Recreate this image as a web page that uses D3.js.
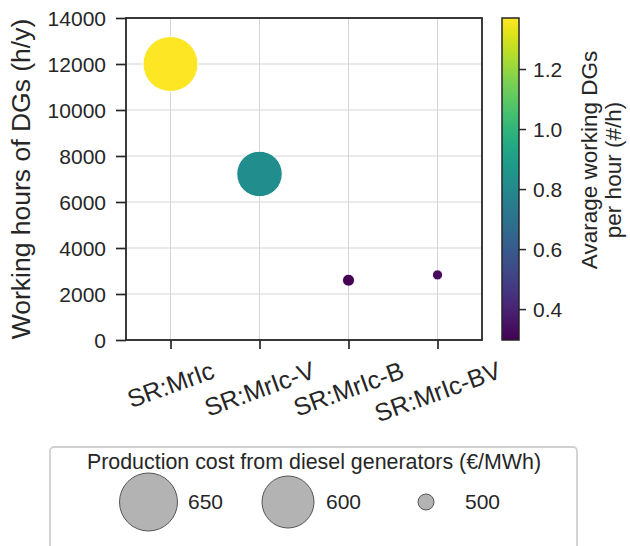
<!DOCTYPE html>
<html><head><meta charset="utf-8">
<script src="https://cdn.jsdelivr.net/npm/d3@7"></script>
<style>
body{margin:0;background:#fff}
text{font-family:"Liberation Sans",Arial,sans-serif;fill:#262626}
</style>
</head><body>
<svg id="c" width="630" height="546"></svg>
<script>
// ---- data ----
const categories = ["SR:MrIc", "SR:MrIc-V", "SR:MrIc-B", "SR:MrIc-BV"];
const workingHours = [12000, 7220, 2600, 2830];
const avgWorkingDGs = [1.370, 0.824, 0.297, 0.323];
const productionCost = [625, 582, 489, 484];
const yTicks = [0, 2000, 4000, 6000, 8000, 10000, 12000, 14000];
const colorTicks = [0.4, 0.6, 0.8, 1.0, 1.2];
const legendCosts = [650, 600, 500];
const legendTitle = "Production cost from diesel generators (€/MWh)";
const yLabel = "Working hours of DGs (h/y)";
const cbLabel = ["Avarage working DGs", "per hour (#/h)"];

// ---- layout ----
const L = 126, R = 482, T = 18, B = 340;
const svg = d3.select("#c");
const dark = "#262626";

const x = d3.scalePoint().domain(categories).range([L, R]).padding(0.5);
const y = d3.scaleLinear().domain([0, 14000]).range([B, T]);
const cExt = d3.extent(avgWorkingDGs);
const color = d3.scaleSequential(d3.interpolateViridis).domain(cExt);
const r = d3.scaleLinear().domain([500, 600, 650]).range([8, 26, 29]);

// grid
const grid = svg.append("g");
grid.selectAll("line.h").data(yTicks).join("line")
  .attr("x1", L).attr("x2", R).attr("y1", d => y(d)).attr("y2", d => y(d))
  .attr("stroke", "#d5d5d5").attr("stroke-width", 1);
grid.selectAll("line.v").data(categories).join("line")
  .attr("x1", d => x(d)).attr("x2", d => x(d)).attr("y1", T).attr("y2", B)
  .attr("stroke", "#d5d5d5").attr("stroke-width", 1);

// y axis
const ya = svg.append("g").attr("transform", `translate(${L},0)`)
  .call(d3.axisLeft(y).tickValues(yTicks).tickSize(10).tickPadding(10).tickFormat(d3.format("d")));
ya.select(".domain").remove();
ya.selectAll("line").attr("stroke", dark).attr("stroke-width", 1.7);
ya.selectAll("text").style("font-size", "21px").attr("fill", dark).attr("dy", "0.35em");

// x axis ticks
const xa = svg.append("g").attr("transform", `translate(0,${B})`)
  .call(d3.axisBottom(x).tickSize(9).tickFormat(""));
xa.select(".domain").remove();
xa.selectAll("line").attr("stroke", dark).attr("stroke-width", 1.7);

// x labels rotated 20deg, top-aligned
const xfs = 25, ang = 20 * Math.PI / 180, topY = 356;
categories.forEach(cat => {
  const t = svg.append("text").text(cat).style("font-size", xfs + "px")
    .attr("text-anchor", "middle").attr("dominant-baseline", "central");
  const w = t.node().getComputedTextLength();
  const H = w * Math.sin(ang) + xfs * 1.1 * Math.cos(ang);
  const cx = x(cat), cy = topY + H / 2;
  t.attr("x", cx).attr("y", cy).attr("transform", `rotate(-20,${cx},${cy})`);
});

// frame
svg.append("rect").attr("x", L).attr("y", T).attr("width", R - L).attr("height", B - T)
  .attr("fill", "none").attr("stroke", dark).attr("stroke-width", 1.8);

// points
const pts = categories.map((c, i) => ({c, h: workingHours[i], v: avgWorkingDGs[i], p: productionCost[i]}));
svg.append("g").selectAll("circle").data(pts).join("circle")
  .attr("cx", d => x(d.c)).attr("cy", d => y(d.h)).attr("r", d => r(d.p))
  .attr("fill", d => color(d.v)).attr("stroke", "#fff").attr("stroke-width", 1);

// y label
svg.append("text").text(yLabel).style("font-size", "26.5px")
  .attr("text-anchor", "middle")
  .attr("transform", `translate(30,${(T + B) / 2}) rotate(-90)`);

// colorbar
const cbX = 502, cbW = 17;
const defs = svg.append("defs");
const grad = defs.append("linearGradient").attr("id", "vir")
  .attr("x1", 0).attr("x2", 0).attr("y1", 1).attr("y2", 0);
d3.range(0, 1.0001, 0.05).forEach(t => grad.append("stop")
  .attr("offset", t).attr("stop-color", d3.interpolateViridis(t)));
svg.append("rect").attr("x", cbX).attr("y", T).attr("width", cbW).attr("height", B - T)
  .attr("fill", "url(#vir)").attr("stroke", dark).attr("stroke-width", 1.5);
const cy = d3.scaleLinear().domain(cExt).range([B, T]);
const ca = svg.append("g").attr("transform", `translate(${cbX + cbW},0)`)
  .call(d3.axisRight(cy).tickValues(colorTicks).tickSize(7).tickPadding(7).tickFormat(d3.format(".1f")));
ca.select(".domain").remove();
ca.selectAll("line").attr("stroke", dark).attr("stroke-width", 1.5);
ca.selectAll("text").style("font-size", "21px").attr("fill", dark).attr("dy", "0.35em");

svg.append("text").text(cbLabel[0]).style("font-size", "22.5px").attr("text-anchor", "middle")
  .attr("transform", `translate(597,160) rotate(-90)`);
svg.append("text").text(cbLabel[1]).style("font-size", "22.5px").attr("text-anchor", "middle")
  .attr("transform", `translate(621,170) rotate(-90)`);

// legend
svg.append("rect").attr("x", 50).attr("y", 447).attr("width", 527).attr("height", 130)
  .attr("rx", 4).attr("fill", "#fff").attr("stroke", "#d0d0d0").attr("stroke-width", 1.8);
svg.append("text").text(legendTitle).style("font-size", "21.4px")
  .attr("x", 314).attr("y", 469).attr("text-anchor", "middle");
const legX = [148.5, 288, 426];
const lg = svg.append("g").selectAll("g").data(legendCosts).join("g")
  .attr("transform", (d, i) => `translate(${legX[i]},502)`);
lg.append("circle").attr("r", d => r(d)).attr("fill", "#b3b3b3").attr("stroke", "#555").attr("stroke-width", 1);
lg.append("text").text(d => d).style("font-size", "21px")
  .attr("x", (d, i) => [39.5, 38, 39][i]).attr("y", 7);
</script>
</body></html>
